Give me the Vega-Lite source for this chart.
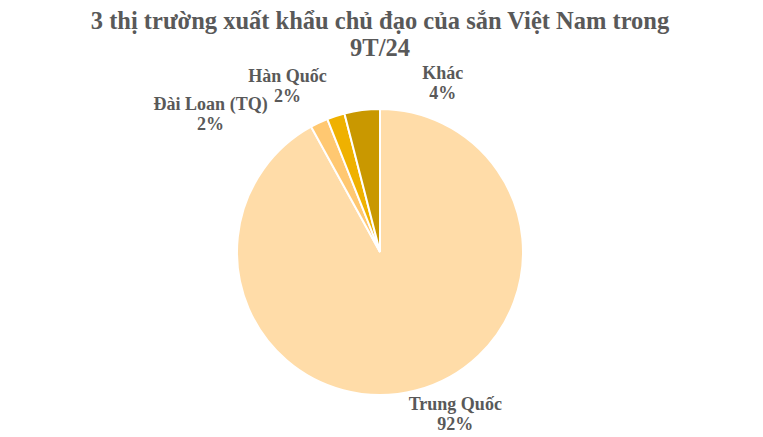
{
  "$schema": "https://vega.github.io/schema/vega-lite/v6.json",
  "autosize": {"type": "none"},
  "padding": {"top": 63, "left": 0, "right": 3, "bottom": 0},
  "width": 760,
  "height": 378,
  "background": "white",
  "title": {
    "text": ["3 thị trường xuất khẩu chủ đạo của sắn Việt Nam trong", "9T/24"],
    "font": "Liberation Serif",
    "fontWeight": "bold",
    "fontSize": 24.5,
    "lineHeight": 27,
    "color": "#595959",
    "anchor": "middle",
    "offset": 0
  },
  "data": {
    "values": [
      {"nhom": "Trung Quốc", "stt": 1, "ty_trong": 92, "nhan": "Trung Quốc\n92%"},
      {"nhom": "Đài Loan (TQ)", "stt": 2, "ty_trong": 2, "nhan": "Đài Loan (TQ)\n2%"},
      {"nhom": "Hàn Quốc", "stt": 3, "ty_trong": 2, "nhan": "Hàn Quốc\n2%"},
      {"nhom": "Khác", "stt": 4, "ty_trong": 4, "nhan": "Khác\n4%"}
    ]
  },
  "encoding": {
    "theta": {"field": "ty_trong", "type": "quantitative", "stack": true},
    "order": {"field": "stt", "type": "quantitative"}
  },
  "layer": [
    {
      "mark": {"type": "arc", "radius": 143, "stroke": "white", "strokeWidth": 2},
      "encoding": {
        "color": {
          "field": "nhom",
          "type": "nominal",
          "legend": null,
          "scale": {
            "domain": ["Trung Quốc", "Đài Loan (TQ)", "Hàn Quốc", "Khác"],
            "range": ["#FFDCA8", "#FFC871", "#EFB100", "#C99800"]
          }
        }
      }
    },
    {
      "mark": {"type": "text", "radius": 170, "dx": 33, "dy": -12, "font": "Liberation Serif", "fontWeight": "bold", "fontSize": 18, "lineHeight": 20, "lineBreak": "\n", "fill": "#595959"},
      "encoding": {"text": {"condition": {"test": "datum.nhom !== 'Trung Quốc'", "value": ""}, "field": "nhan"}}
    },
    {
      "mark": {"type": "text", "radius": 170, "dx": -97, "dy": 7, "font": "Liberation Serif", "fontWeight": "bold", "fontSize": 18, "lineHeight": 20, "lineBreak": "\n", "fill": "#595959"},
      "encoding": {"text": {"condition": {"test": "datum.nhom !== 'Đài Loan (TQ)'", "value": ""}, "field": "nhan"}}
    },
    {
      "mark": {"type": "text", "radius": 170, "dx": -40, "dy": -13, "font": "Liberation Serif", "fontWeight": "bold", "fontSize": 18, "lineHeight": 20, "lineBreak": "\n", "fill": "#595959"},
      "encoding": {"text": {"condition": {"test": "datum.nhom !== 'Hàn Quốc'", "value": ""}, "field": "nhan"}}
    },
    {
      "mark": {"type": "text", "radius": 170, "dx": 84, "dy": -9, "font": "Liberation Serif", "fontWeight": "bold", "fontSize": 18, "lineHeight": 20, "lineBreak": "\n", "fill": "#595959"},
      "encoding": {"text": {"condition": {"test": "datum.nhom !== 'Khác'", "value": ""}, "field": "nhan"}}
    }
  ],
  "config": {"view": {"stroke": null}}
}
